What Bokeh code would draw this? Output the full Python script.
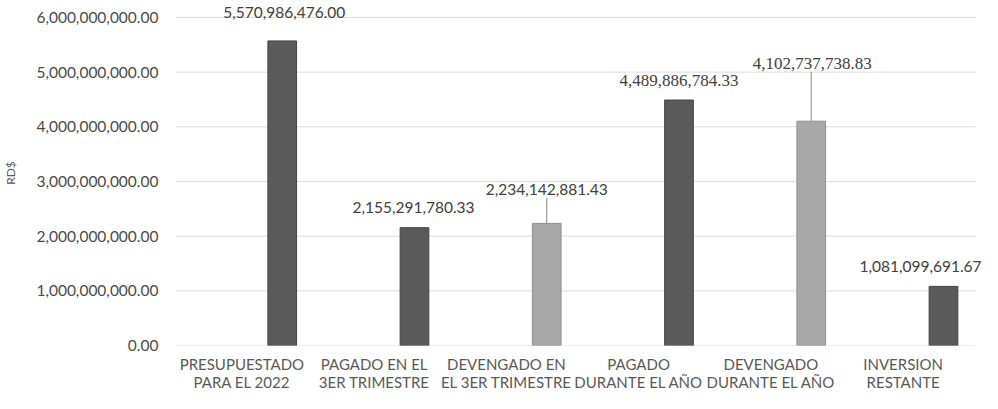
from bokeh.plotting import figure
from bokeh.models import ColumnDataSource, FixedTicker, NumeralTickFormatter, Range1d, LabelSet
from bokeh.core.properties import value
from bokeh.embed import file_html
from bokeh.resources import INLINE

# ---- data ----
categories = [
    "PRESUPUESTADO\nPARA EL 2022",
    "PAGADO EN EL\n3ER TRIMESTRE",
    "DEVENGADO EN\nEL 3ER TRIMESTRE",
    "PAGADO\nDURANTE EL AÑO",
    "DEVENGADO\nDURANTE EL AÑO",
    "INVERSION\nRESTANTE",
]
amounts = [5570986476.00, 2155291780.33, 2234142881.43, 4489886784.33, 4102737738.83, 1081099691.67]
value_labels = ["5,570,986,476.00", "2,155,291,780.33", "2,234,142,881.43",
                "4,489,886,784.33", "4,102,737,738.83", "1,081,099,691.67"]
y_ticks = [0, 1e9, 2e9, 3e9, 4e9, 5e9, 6e9]

# ---- styles ----
BAR_FILL = ["#5a5a5a", "#5a5a5a", "#a8a8a8", "#5a5a5a", "#a8a8a8", "#5a5a5a"]
BAR_LINE = ["#444444", "#444444", "#909090", "#444444", "#909090", "#444444"]
SERIF_LABEL = [False, False, False, True, True, False]
LABEL_DX = [2, -1, 0, 0, 1, -23]          # px
LABEL_DY = [28, 20, 33.5, 20, 57.5, 20]   # px above bar top
LEADER = [False, False, True, False, True, False]
BAR_SHIFT = 0.305
BAR_W = 0.217

FRAME_BOTTOM = 346.0   # px from top of figure where 0 sits
TOP_PAD = 17.0         # px from top to the 6e9 line
Y_MAX = 6e9
px_per_unit = (FRAME_BOTTOM - TOP_PAD) / Y_MAX
y_end = FRAME_BOTTOM / px_per_unit

x_start, x_end = -0.502, 5.60
grid_end = 5.547

idx = list(range(len(categories)))
bx = [i + BAR_SHIFT for i in idx]

p = figure(width=982, height=393, output_backend="svg", toolbar_location=None,
           x_range=Range1d(x_start, x_end), y_range=Range1d(0, y_end),
           min_border_left=168, min_border_right=0, min_border_top=0, min_border_bottom=0)
p.outline_line_color = None
p.background_fill_color = "white"
p.border_fill_color = "white"

# grid lines
p.segment(x0=[x_start] * len(y_ticks), y0=y_ticks, x1=[grid_end] * len(y_ticks), y1=y_ticks,
          line_color="#dcdcdc", line_width=1)

src = ColumnDataSource(dict(x=bx, top=amounts, fill=BAR_FILL, line=BAR_LINE))
p.vbar(x="x", top="top", width=BAR_W, bottom=0, source=src,
       fill_color="fill", line_color="line", line_width=1)

# leader lines
lx, ly0, ly1 = [], [], []
for i in idx:
    if LEADER[i]:
        lx.append(bx[i])
        ly0.append(amounts[i])
        ly1.append(amounts[i] + (LABEL_DY[i] - 8) / px_per_unit)
p.segment(x0=lx, y0=ly0, x1=lx, y1=ly1, line_color="#8a8a8a", line_width=1)


def label_source(sel):
    ii = [i for i in idx if sel(i)]
    return ColumnDataSource(dict(x=[bx[i] for i in ii], y=[amounts[i] for i in ii],
                                 t=[value_labels[i] for i in ii],
                                 dx=[LABEL_DX[i] for i in ii], dy=[LABEL_DY[i] for i in ii]))


sans = LabelSet(x="x", y="y", text="t", x_offset="dx", y_offset="dy",
                source=label_source(lambda i: not SERIF_LABEL[i]),
                text_font=value("Lato"), text_font_size=value("15.5px"), text_color="#404040",
                text_align="center", text_baseline="middle")
serif = LabelSet(x="x", y="y", text="t", x_offset="dx", y_offset="dy",
                 source=label_source(lambda i: SERIF_LABEL[i]),
                 text_font=value("Liberation Serif"), text_font_size=value("17px"),
                 text_color="#404040", text_align="center", text_baseline="middle")
p.add_layout(sans)
p.add_layout(serif)

# axes
p.xaxis.ticker = FixedTicker(ticks=idx)
p.xaxis.major_label_overrides = {i: c for i, c in enumerate(categories)}
p.xaxis.major_label_text_font = "Lato"
p.xaxis.major_label_text_font_size = "15px"
p.xaxis.major_label_text_color = "#595959"
p.xaxis.major_label_text_line_height = 1.0
p.xaxis.major_label_standoff = 3
p.xaxis.axis_line_color = None
p.xaxis.major_tick_line_color = None
p.xaxis.minor_tick_line_color = None

p.yaxis.ticker = FixedTicker(ticks=y_ticks)
p.yaxis.formatter = NumeralTickFormatter(format="0,0.00")
p.yaxis.major_label_text_font = "Lato"
p.yaxis.major_label_text_font_size = "15.5px"
p.yaxis.major_label_text_color = "#4a4a4a"
p.yaxis.major_label_standoff = 11
p.yaxis.axis_label = "RD$"
p.yaxis.axis_label_text_font = "Lato"
p.yaxis.axis_label_text_font_size = "12px"
p.yaxis.axis_label_text_font_style = "normal"
p.yaxis.axis_label_text_color = "#595959"
p.yaxis.axis_label_standoff = 15
p.yaxis.axis_line_color = None
p.yaxis.major_tick_line_color = None
p.yaxis.minor_tick_line_color = None

p.xgrid.grid_line_color = None
p.ygrid.grid_line_color = None

open("out.html", "w").write(file_html(p, INLINE))
